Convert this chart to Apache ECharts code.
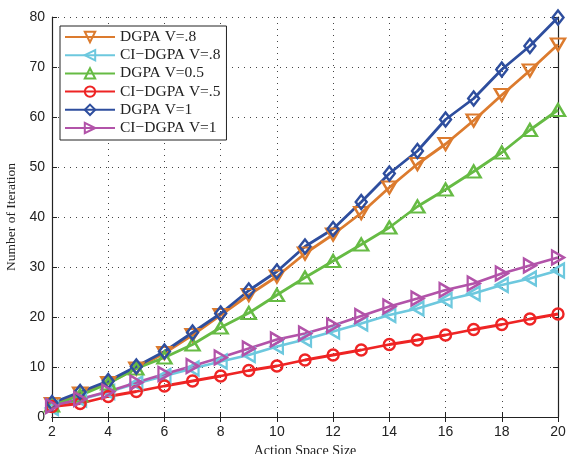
<!DOCTYPE html>
<html><head><meta charset="utf-8">
<script src="https://cdn.jsdelivr.net/npm/echarts@6/dist/echarts.min.js"></script>
<style>html,body{margin:0;padding:0;background:#fff;overflow:hidden}#c{width:569px;height:454px}</style>
</head><body><div id="c"></div>
<script>
const xs = [2,3,4,5,6,7,8,9,10,11,12,13,14,15,16,17,18,19,20];
const dgpa08   = [2.6,4.7,6.8,9.7,12.8,16.4,20.4,24.4,28.1,32.7,36.5,40.8,45.9,50.6,54.6,59.3,64.4,69.3,74.5];
const cidgpa08 = [1.8,3.5,5.0,6.7,8.2,9.7,11.1,12.4,14.1,15.5,17.1,18.7,20.4,21.7,23.4,24.7,26.4,27.7,29.3];
const dgpa05   = [2.3,4.3,6.7,9.7,11.9,14.5,17.9,20.8,24.4,27.9,31.2,34.5,37.9,42.1,45.5,49.1,52.9,57.4,61.4];
const cidgpa05 = [2.1,2.7,4.1,5.1,6.2,7.2,8.2,9.3,10.2,11.4,12.4,13.4,14.5,15.4,16.4,17.5,18.5,19.6,20.6];
const dgpa1    = [2.8,5.0,7.2,10.1,13.1,16.9,20.7,25.3,29.1,34.1,37.6,43.0,48.7,53.2,59.5,63.7,69.5,74.2,79.9];
const cidgpa1  = [2.2,3.6,5.1,6.9,8.6,10.2,11.9,13.7,15.5,16.7,18.3,20.2,22.1,23.7,25.4,26.7,28.7,30.3,31.9];
const names = ['DGPA V=.8','CI\u2212DGPA V=.8','DGPA V=0.5','CI\u2212DGPA V=.5','DGPA V=1','CI\u2212DGPA V=1'];
const xTicks = [2,4,6,8,10,12,14,16,18,20];
const yTicks = [0,10,20,30,40,50,60,70,80];

const colors = ['#DC7B2E','#6DC8DE','#66BB44','#EE2424','#2E4E9E','#B253A9'];
const symbols = ['triangle','triangle','triangle','circle','diamond','triangle'];
const rots = [180,90,0,0,0,-90];
const sizes = [[14,12],[14,12],[14,12],11,[11,14],[14,12]];
const allData = [dgpa08,cidgpa08,dgpa05,cidgpa05,dgpa1,cidgpa1];

const series = allData.map((d,i)=>({
  name:names[i], type:'line', xAxisIndex:0, yAxisIndex:0,
  data: xs.map((x,j)=>[x,d[j]]),
  symbol:symbols[i], symbolRotate:rots[i], symbolSize:sizes[i],
  showAllSymbol:true,
  lineStyle:{color:colors[i], width:2.8},
  itemStyle:{color:'rgba(255,255,255,0)', borderColor:colors[i], borderWidth:2.4},
  emphasis:{disabled:true}, animation:false
}));

const serif = '"Liberation Serif","DejaVu Serif",serif';
const sans = '"Liberation Sans",Arial,sans-serif';
const chart = echarts.init(document.getElementById('c'),null,{renderer:'canvas'});
chart.setOption({
  animation:false,
  backgroundColor:'#fff',
  grid:{left:52,right:11,top:17,bottom:37,containLabel:false,outerBoundsMode:'none'},
  legend:{
    orient:'vertical', left:60, top:26, padding:[3,6,4,4],
    backgroundColor:'#fff', borderColor:'#222', borderWidth:1, borderRadius:0,
    itemWidth:50, itemHeight:13, itemGap:2.2,
    textStyle:{fontFamily:serif, fontSize:15.5, color:'#222', lineHeight:16},
    data:names
  },
  xAxis:[{
    type:'value', min:2, max:20, interval:2,
    name:'Action Space Size', nameLocation:'middle', nameGap:24,
    nameTextStyle:{fontFamily:serif, fontSize:14, color:'#222'},
    axisLine:{lineStyle:{color:'#222',width:1.2}},
    axisTick:{inside:true, length:5, lineStyle:{color:'#222'}},
    axisLabel:{fontFamily:sans, fontSize:14, color:'#222', margin:8},
    splitLine:{show:true, lineStyle:{color:'#444', type:[1,5], width:1}}
  },{
    type:'value', min:2, max:20, interval:2, position:'top',
    axisLine:{show:true,lineStyle:{color:'#222',width:1.2}},
    axisTick:{show:true,inside:true,length:5,lineStyle:{color:'#222'}},
    axisLabel:{show:false}, splitLine:{show:false}
  }],
  yAxis:[{
    type:'value', min:0, max:80, interval:10,
    name:'Number of Iteration', nameLocation:'middle', nameGap:33, nameRotate:90,
    nameTextStyle:{fontFamily:serif, fontSize:13.5, color:'#222'},
    axisLine:{show:true,lineStyle:{color:'#222',width:1.2}},
    axisTick:{show:true,inside:true, length:5, lineStyle:{color:'#222'}},
    axisLabel:{fontFamily:sans, fontSize:14, color:'#222', margin:7},
    splitLine:{show:true, lineStyle:{color:'#444', type:[1,5], width:1}}
  },{
    type:'value', min:0, max:80, interval:10, position:'right',
    axisLine:{show:true,lineStyle:{color:'#222',width:1.2}},
    axisTick:{show:true,inside:true,length:5,lineStyle:{color:'#222'}},
    axisLabel:{show:false}, splitLine:{show:false}
  }],
  series:series
});
</script></body></html>
